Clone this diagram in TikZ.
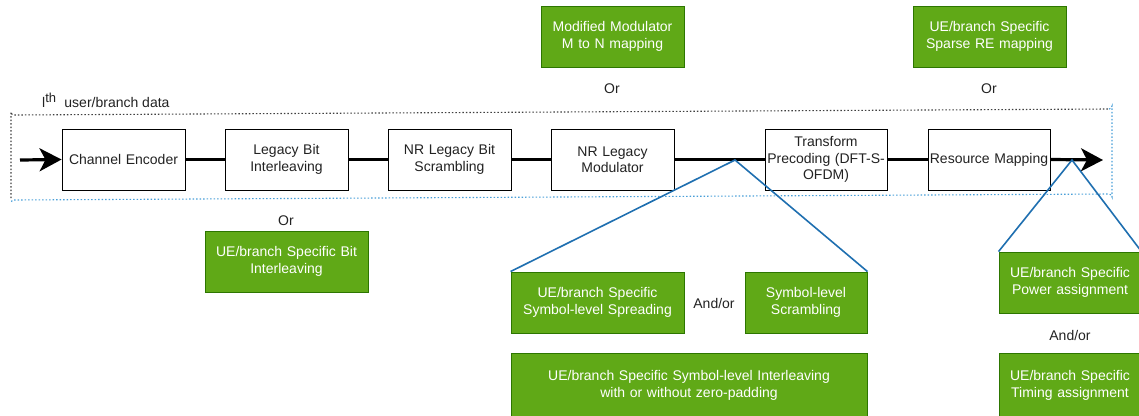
\documentclass[tikz,border=0pt]{standalone}
\usepackage{fontspec}
\setmainfont{Liberation Sans}
\usetikzlibrary{arrows.meta}
\definecolor{gfill}{HTML}{60A917}
\definecolor{gdraw}{HTML}{2D7600}
\definecolor{bline}{HTML}{1F6FB0}
\definecolor{dblue}{HTML}{4A9FD8}
\definecolor{txt}{HTML}{222222}
\begin{document}
\begin{tikzpicture}[x=1pt,y=-1pt,
  font=\fontsize{14}{16.5}\selectfont,
  wbox/.style={draw=black,line width=0.9pt,fill=white,text=txt,minimum height=61pt,inner sep=0pt,align=center},
  gbox/.style={draw=gdraw,line width=0.9pt,fill=gfill,text=white,minimum height=61pt,inner sep=0pt,align=center},
  lbl/.style={text=txt,inner sep=0pt},
  mainline/.style={line width=3.2pt,draw=black},
  bigarrow/.style={-{Stealth[length=22pt,width=23pt,inset=6pt]}},
  bl/.style={draw=bline,line width=1.6pt},
  dotb/.style={line width=1.1pt,dash pattern=on 1.5pt off 2pt}]
\useasboundingbox (0,0) rectangle (1139,415);
% container
\draw[dotb,draw=black!75] (11,198) -- (11,112) arc[start angle=180,end angle=90,radius=3] -- (1109,109);
\draw[dotb,draw=dblue] (1109,109) arc[start angle=90,end angle=0,radius=3] -- (1112,197) arc[start angle=0,end angle=-90,radius=3] -- (14,200) arc[start angle=270,end angle=180,radius=3];
\node[lbl,anchor=west] (lab) at (42,100) {l\textsuperscript{\fontsize{13}{15}\selectfont th}\ \ user/branch data};
% chain
\node[wbox,minimum width=123pt,text width=119pt] (ce) at (123.5,159.5) {Channel Encoder};
\node[wbox,minimum width=123pt,text width=119pt] (lbi) at (286.5,159.5) {Legacy Bit\\Interleaving};
\node[wbox,minimum width=123pt,text width=119pt] (nbs) at (449.5,159.5) {NR Legacy Bit\\Scrambling};
\node[wbox,minimum width=123pt,text width=119pt] (nm) at (612.5,159.5) {NR Legacy\\Modulator};
\node[wbox,minimum width=122pt,text width=121pt] (tp) at (826,159.5) {Transform\\Precoding (DFT-S-\\OFDM)};
\node[wbox,minimum width=122pt,text width=121pt] (rm) at (989,159.5) {Resource Mapping};
\coordinate (in) at (20,160);
\coordinate (out) at (1103,160);
\coordinate (s1) at (735,160);
\coordinate (s2) at (1072,160);
\draw[mainline,bigarrow] (in) -- (ce.west);
\draw[mainline] (ce) -- (lbi);
\draw[mainline] (lbi) -- (nbs);
\draw[mainline] (nbs) -- (nm);
\draw[mainline] (nm) -- (tp);
\draw[mainline] (tp) -- (rm);
\draw[mainline,bigarrow] (rm.east) -- (out);
% green boxes
\node[gbox,minimum width=143pt,text width=141pt] (mm) at (612.5,36.5) {Modified Modulator\\M to N mapping};
\node[gbox,minimum width=153pt,text width=149pt] (sre) at (989.5,36.5) {UE/branch Specific\\Sparse RE mapping};
\node[lbl] (or1) at (612,89) {Or};
\node[lbl] (or2) at (989,89) {Or};
\node[lbl] (or3) at (286,221) {Or};
\node[gbox,minimum width=163pt,text width=161pt] (ubi) at (286.5,261.5) {UE/branch Specific Bit\\Interleaving};
\node[gbox,minimum width=173pt,text width=171pt] (spr) at (597.5,302.5) {UE/branch Specific\\Symbol-level Spreading};
\node[lbl] (ao1) at (714,303) {And/or};
\node[gbox,minimum width=122pt,text width=118pt] (scr) at (806,302.5) {Symbol-level\\Scrambling};
\node[gbox,minimum width=356pt,minimum height=65pt,text width=350pt] (sil) at (689,385.5) {UE/branch Specific Symbol-level Interleaving\\with or without zero-padding};
\node[gbox,minimum width=142pt,text width=140pt] (pow) at (1070,282.5) {UE/branch Specific\\Power assignment};
\node[lbl] (ao2) at (1070,335) {And/or};
\node[gbox,minimum width=142pt,minimum height=65pt,text width=140pt] (tim) at (1070,385.5) {UE/branch Specific\\Timing assignment};
% blue connectors
\draw[bl] (spr.north west) -- (s1) -- (scr.north east);
\draw[bl] (pow.north west) -- (s2) -- (pow.north east);
\end{tikzpicture}
\end{document}
